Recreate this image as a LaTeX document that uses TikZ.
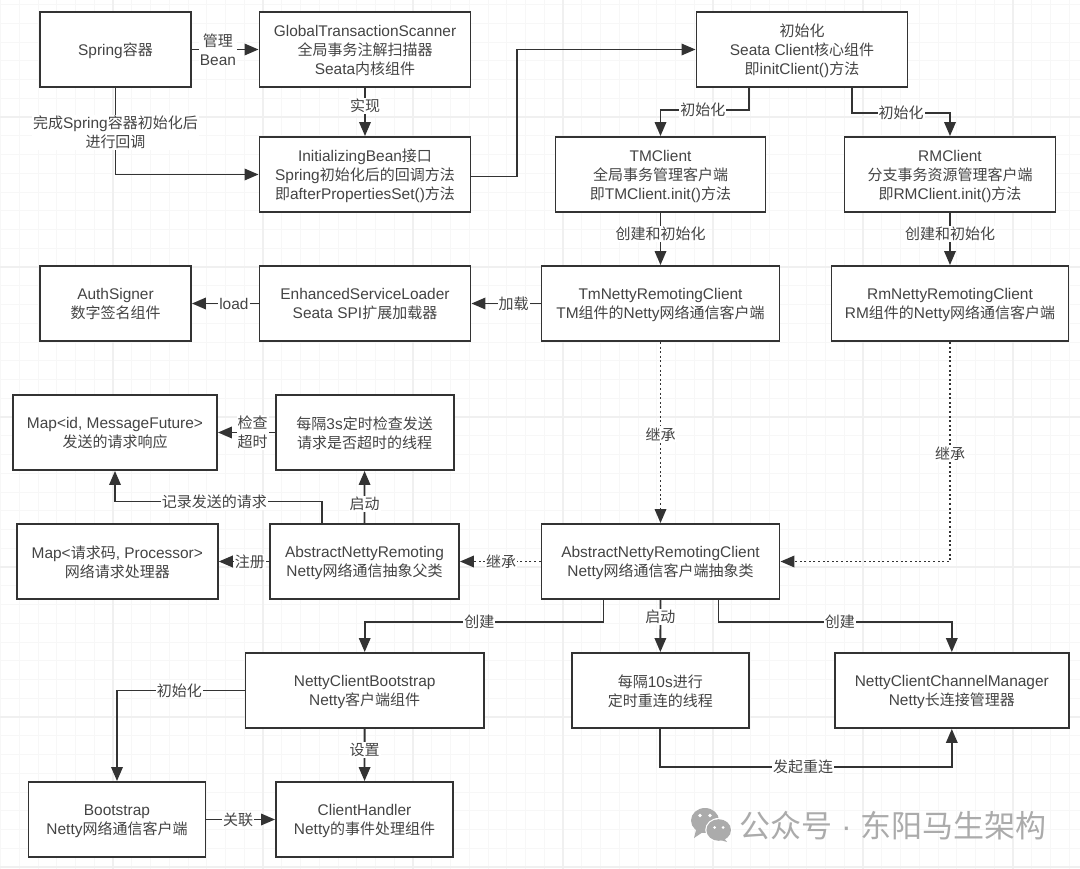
\documentclass[tikz,border=0pt]{standalone}
\usepackage{fontspec}
\usetikzlibrary{arrows.meta}
\setmainfont[Scale=1.03]{Liberation Sans}
\newfontfamily\cjk{Noto Sans CJK SC}
\XeTeXinterchartokenstate=1
\newXeTeXintercharclass\cjkclass
\count255="4E00
\loop\ifnum\count255<"A000 \XeTeXcharclass\count255=\cjkclass \advance\count255 by 1 \repeat
\XeTeXinterchartoks 0 \cjkclass = {\begingroup\cjk}
\XeTeXinterchartoks 4095 \cjkclass = {\begingroup\cjk}
\XeTeXinterchartoks \cjkclass 0 = {\endgroup}
\XeTeXinterchartoks \cjkclass 4095 = {\endgroup}
\definecolor{inkcol}{HTML}{333333}
\definecolor{textcol}{HTML}{444444}
\definecolor{markcol}{HTML}{ABABAB}

\begin{document}
\begin{tikzpicture}[x=1pt, y=-1pt,
  main/.style = {draw=inkcol, fill=white, rectangle, line width=1.9pt, minimum height=75pt, inner sep=0pt, align=center, text=textcol, text depth=0pt, font=\fontsize{15}{19}\selectfont},
  conn/.style = {->, >={Triangle[length=14pt,width=11.5pt]}, draw=inkcol, line width=1.8pt},
  dot/.style = {conn, dash pattern=on 2pt off 2.6pt},
  lbl/.style = {fill=white, inner sep=1pt, align=center, text=textcol, font=\fontsize{15}{19}\selectfont},
  thin line/.style = {draw=black!3, line width=0.8pt},
  wide line/.style = {draw=black!6, line width=1.1pt}]
\useasboundingbox (0,0) rectangle (1080,869);

% background grid
\foreach \gx in {0.5,19.25,...,1080} \draw[thin line] (\gx,0) -- (\gx,869);
\foreach \gy in {4.5,23.25,...,869} \draw[thin line] (0,\gy) -- (1080,\gy);
\foreach \gx in {113,263,...,1013} \draw[wide line] (\gx,0) -- (\gx,869);
\foreach \gy in {117,267,...,867} \draw[wide line] (0,\gy) -- (1080,\gy);

% boxes
\node[main, minimum width=151pt] (spring) at (115.5,49.5) {Spring容器};
\node[main, minimum width=211pt] (scanner) at (365,49.5) {GlobalTransactionScanner\\全局事务注解扫描器\\Seata内核组件};
\node[main, minimum width=211pt] (initbean) at (365,174.5) {InitializingBean接口\\Spring初始化后的回调方法\\即afterPropertiesSet()方法};
\node[main, minimum width=151pt] (auth) at (115.5,303.5) {AuthSigner\\数字签名组件};
\node[main, minimum width=211pt] (loader) at (365,303.5) {EnhancedServiceLoader\\Seata SPI扩展加载器};
\node[main, minimum width=211pt] (init) at (802,49.5) {初始化\\Seata Client核心组件\\即initClient()方法};
\node[main, minimum width=210pt] (tmclient) at (660.5,174.5) {TMClient\\全局事务管理客户端\\即TMClient.init()方法};
\node[main, minimum width=211pt] (rmclient) at (950,174.5) {RMClient\\分支事务资源管理客户端\\即RMClient.init()方法};
\node[main, minimum width=238pt] (tmnetty) at (660.5,303.5) {TmNettyRemotingClient\\TM组件的Netty网络通信客户端};
\node[main, minimum width=237pt] (rmnetty) at (950,303.5) {RmNettyRemotingClient\\RM组件的Netty网络通信客户端};
\node[main, minimum width=204pt] (mapfuture) at (115,432.5) {Map<id, MessageFuture>\\发送的请求响应};
\node[main, minimum width=178pt] (checker) at (364.6,432.5) {每隔3s定时检查发送\\请求是否超时的线程};
\node[main, minimum width=201pt] (mapproc) at (117.3,561.5) {Map<请求码, Processor>\\网络请求处理器};
\node[main, minimum width=189pt] (remoting) at (364.5,561.5) {AbstractNettyRemoting\\Netty网络通信抽象父类};
\node[main, minimum width=238pt] (nettyclient) at (660.5,561.5) {AbstractNettyRemotingClient\\Netty网络通信客户端抽象类};
\node[main, minimum width=238.5pt] (nettyboot) at (364.7,690.5) {NettyClientBootstrap\\Netty客户端组件};
\node[main, minimum width=177pt] (reconnect) at (660.3,690.5) {每隔10s进行\\定时重连的线程};
\node[main, minimum width=233.5pt] (chanmgr) at (951.8,690.5) {NettyClientChannelManager\\Netty长连接管理器};
\node[main, minimum width=177pt] (bootstrap) at (117,819.5) {Bootstrap\\Netty网络通信客户端};
\node[main, minimum width=177pt] (handler) at (364.5,819.5) {ClientHandler\\Netty的事件处理组件};

% connectors
\draw[conn] (spring) to node[lbl, pos=.39] {管理\\Bean} (scanner);
\draw[conn] (scanner) to node[lbl, pos=.38] {实现} (initbean);
\draw[conn] (spring.south) |- node[lbl, pos=.256] {完成Spring容器初始化后\\进行回调} (initbean.west);
\draw[conn] ([yshift=-2pt]initbean.east) -- ++(45.6,0) |- (init.west);
\draw[conn] ([xshift=-53pt]init.south) -- ++(0,21.7) -| node[lbl, pos=.26] {初始化} (tmclient.north);
\draw[conn] ([xshift=50.3pt]init.south) -- ++(0,25) -| node[lbl, pos=.25] {初始化} (rmclient.north);
\draw[conn] (tmclient) to node[lbl, pos=.4] {创建和初始化} (tmnetty);
\draw[conn] (rmclient) to node[lbl, pos=.4] {创建和初始化} (rmnetty);
\draw[conn] (tmnetty) to node[lbl, pos=.39] {加载} (loader);
\draw[conn] (loader) to node[lbl, pos=.37] {load} (auth);
\draw[dot] (tmnetty) to node[lbl, pos=.51] {继承} (nettyclient);
\draw[dot] (rmnetty.south) |- node[lbl, pos=.255] {继承} (nettyclient.east);
\draw[dot] (nettyclient) to node[lbl, pos=.49] {继承} (remoting);
\draw[conn] (remoting) to node[lbl, pos=.38] {注册} (mapproc);
\draw[conn] (remoting) to node[lbl, pos=.37] {启动} (checker);
\draw[conn] (checker) to node[lbl, pos=.39] {检查\\超时} (mapfuture);
\draw[conn] ([xshift=-42.7pt]remoting.north) -- ++(0,-21.5) -| node[lbl, pos=.26] {记录发送的请求} (mapfuture.south);
\draw[conn] ([xshift=-57pt]nettyclient.south) -- ++(0,22) -| node[lbl, pos=.26] {创建} (nettyboot.north);
\draw[conn] (nettyclient) to node[lbl, pos=.33] {启动} (reconnect);
\draw[conn] ([xshift=58pt]nettyclient.south) -- ++(0,22) -| node[lbl, pos=.26] {创建} (chanmgr.north);
\draw[conn] (nettyboot.west) -| node[lbl, pos=.255] {初始化} (bootstrap.north);
\draw[conn] (nettyboot) to node[lbl, pos=.4] {设置} (handler);
\draw[conn] (bootstrap) to node[lbl, pos=.46] {关联} (handler);
\draw[conn] (reconnect.south) -- ++(0,38.3) -| node[lbl, pos=.245] {发起重连} (chanmgr.south);

% watermark
\fill[markcol] (705,820.5) ellipse [x radius=14, y radius=12.5];
\fill[markcol] (696,830) -- (694,838) -- (703,832) -- cycle;
\fill[white] (718.7,830) ellipse [x radius=13.5, y radius=12];
\fill[markcol] (718.7,830) ellipse [x radius=12.3, y radius=10.8];
\fill[markcol] (724,838) -- (727,842) -- (717,839) -- cycle;
\foreach \ex/\ey/\er in {700/815.5/1.8, 710/815.5/1.8, 714.5/827.5/1.5, 723/827.5/1.5} \fill[white] (\ex,\ey) circle (\er);
\node[inner sep=0pt, text=markcol, font=\fontsize{31}{34}\selectfont] (mark) at (893,825.5) {公众号 · 东阳马生架构};
\end{tikzpicture}
\end{document}
